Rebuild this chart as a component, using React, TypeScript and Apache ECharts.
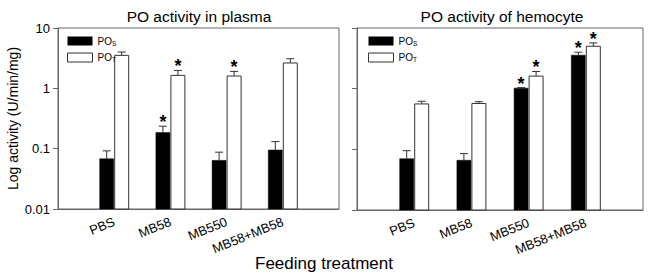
import React, { useEffect, useRef } from 'react';
import * as echarts from 'echarts';

// ---- data ----
const categories = ['', 'PBS', 'MB58', 'MB550', 'MB58+MB58', ''];
const treatments = ['PBS', 'MB58', 'MB550', 'MB58+MB58'];
const yTickLabels = ['0.01', '0.1', '1', '10'];

const plasmaPOs = [0.068, 0.185, 0.064, 0.095];
const plasmaPOsUpper = [0.092, 0.236, 0.0875, 0.131];
const plasmaPOsStar = [0, 1, 0, 0];
const plasmaPOt = [3.52, 1.64, 1.6, 2.63];
const plasmaPOtUpper = [4.0, 1.98, 1.91, 3.1];
const plasmaPOtStar = [0, 1, 1, 0];

const hemoPOs = [0.07, 0.066, 1.02, 3.56];
const hemoPOsUpper = [0.095, 0.085, 1.04, 3.99];
const hemoPOsStar = [0, 0, 1, 1];
const hemoPOt = [0.56, 0.57, 1.61, 5.0];
const hemoPOtUpper = [0.62, 0.61, 1.92, 5.67];
const hemoPOtStar = [0, 0, 1, 1];

const titles = ['PO activity in plasma', 'PO activity of hemocyte'];
const xTitle = 'Feeding treatment';
const yTitle = 'Log activity (U/min/mg)';

const FONT = '"Liberation Sans", Arial, Helvetica, sans-serif';
const AXIS = '#666';

function buildData(vals: number[], upper: number[], star: number[]) {
  return treatments.map((t, i) => [categories.indexOf(t), vals[i], upper[i], star[i]]);
}

function makeRender(side: 'S' | 'T') {
  return (params: any, api: any) => {
    const idx = api.value(0);
    const v = api.value(1);
    const up = api.value(2);
    const star = api.value(3);
    const top = api.coord([idx, v]);
    const base = api.coord([idx, 0.01]);
    const eTop = api.coord([idx, up]);
    const bw = 14;
    const x0 = side === 'S' ? top[0] - 14.5 : top[0] + 0.5;
    const bc = x0 + bw / 2;
    const children: any[] = [
      {
        type: 'rect',
        shape: { x: x0, y: top[1], width: bw, height: base[1] - top[1] },
        style: side === 'S'
          ? { fill: '#000', stroke: '#000', lineWidth: 0.5 }
          : { fill: '#fff', stroke: '#333', lineWidth: 1 },
      },
      {
        type: 'line',
        shape: { x1: bc, y1: top[1], x2: bc, y2: eTop[1] },
        style: { stroke: '#333', lineWidth: 1 },
      },
      {
        type: 'line',
        shape: { x1: bc - 4, y1: eTop[1], x2: bc + 4, y2: eTop[1] },
        style: { stroke: '#333', lineWidth: 1 },
      },
    ];
    if (star) {
      children.push({
        type: 'text',
        style: {
          text: '*',
          x: bc,
          y: eTop[1] - 4,
          align: 'center',
          verticalAlign: 'middle',
          fontSize: 18,
          fontWeight: 'bold',
          fontFamily: FONT,
          fill: '#000',
        },
      });
    }
    return { type: 'group', children };
  };
}

export default function App() {
  const ref = useRef<HTMLDivElement>(null);
  useEffect(() => {
    if (!ref.current) return;
    const chart = echarts.init(ref.current, undefined, { renderer: 'svg' });
    const legendCommon = {
      orient: 'vertical' as const,
      top: 31,
      itemWidth: 25,
      itemHeight: 9,
      itemGap: 6,
      icon: 'rect',
      selectedMode: false,
      formatter: (name: string) => (name === 'POS' ? 'PO{sub|S}' : 'PO{sub|T}'),
      textStyle: {
        fontSize: 10,
        fontFamily: FONT,
        color: '#000',
        padding: [0, 0, 0, 0],
        rich: {
          sub: { fontSize: 6.5, fontFamily: FONT, verticalAlign: 'bottom', padding: [4, 0, 0, 0] },
        },
      },
      data: [
        { name: 'POS', itemStyle: { color: '#000', borderColor: '#000', borderWidth: 0 } },
        { name: 'POT', itemStyle: { color: '#fff', borderColor: '#333', borderWidth: 1 } },
      ],
    };
    const yAxisCommon = {
      type: 'log' as const,
      logBase: 10,
      min: 0.01,
      max: 10,
      axisLine: { show: true, lineStyle: { color: AXIS, width: 1 } },
      axisTick: { show: true, length: 5, lineStyle: { color: AXIS } },
      splitLine: { show: false },
      minorTick: { show: false },
    };
    const xAxisCommon = {
      type: 'category' as const,
      data: categories,
      boundaryGap: false,
      axisLine: { show: true, lineStyle: { color: AXIS } },
      axisTick: { show: false },
      axisLabel: {
        interval: 0,
        rotate: 22,
        margin: 12,
        fontSize: 13,
        fontFamily: FONT,
        color: '#000',
      },
    };
    chart.setOption({
      animation: false,
      backgroundColor: '#fff',
      title: [
        { text: titles[0], left: 194, top: 3, textAlign: 'center', textStyle: { fontSize: 15.5, fontWeight: 'normal', fontFamily: FONT, color: '#000' } },
        { text: titles[1], left: 497, top: 3, textAlign: 'center', textStyle: { fontSize: 15.5, fontWeight: 'normal', fontFamily: FONT, color: '#000' } },
      ],
      legend: [
        { ...legendCommon, left: 62 },
        { ...legendCommon, left: 363 },
      ],
      grid: [
        { left: 58, right: 309, top: 28, bottom: 67, show: true, borderColor: AXIS, borderWidth: 1, backgroundColor: 'transparent' },
        { left: 357, right: 5, top: 28, bottom: 66, show: true, borderColor: AXIS, borderWidth: 1, backgroundColor: 'transparent' },
      ],
      xAxis: [
        { ...xAxisCommon, gridIndex: 0 },
        { ...xAxisCommon, gridIndex: 1 },
      ],
      yAxis: [
        {
          ...yAxisCommon,
          gridIndex: 0,
          name: yTitle,
          nameLocation: 'middle',
          nameGap: 38,
          nameTextStyle: { fontSize: 14, fontFamily: FONT, color: '#000' },
          axisLabel: {
            show: true,
            margin: 8,
            fontSize: 13,
            fontFamily: FONT,
            color: '#000',
            formatter: (v: number) => yTickLabels[Math.round(Math.log10(v)) + 2],
          },
        },
        { ...yAxisCommon, gridIndex: 1, axisLabel: { show: false } },
      ],
      graphic: [
        {
          type: 'text',
          left: 'center',
          top: 255,
          style: { text: xTitle, x: 343, fontSize: 17, fontFamily: FONT, fill: '#000' },
        },
      ],
      series: [
        { type: 'custom', name: 'POS', xAxisIndex: 0, yAxisIndex: 0, itemStyle: { color: '#000' }, renderItem: makeRender('S'), data: buildData(plasmaPOs, plasmaPOsUpper, plasmaPOsStar) },
        { type: 'custom', name: 'POT', xAxisIndex: 0, yAxisIndex: 0, itemStyle: { color: '#fff', borderColor: '#333' }, renderItem: makeRender('T'), data: buildData(plasmaPOt, plasmaPOtUpper, plasmaPOtStar) },
        { type: 'custom', name: 'POS', xAxisIndex: 1, yAxisIndex: 1, itemStyle: { color: '#000' }, renderItem: makeRender('S'), data: buildData(hemoPOs, hemoPOsUpper, hemoPOsStar) },
        { type: 'custom', name: 'POT', xAxisIndex: 1, yAxisIndex: 1, itemStyle: { color: '#fff', borderColor: '#333' }, renderItem: makeRender('T'), data: buildData(hemoPOt, hemoPOtUpper, hemoPOtStar) },
      ],
    });
    return () => chart.dispose();
  }, []);
  return <div ref={ref} style={{ width: 648, height: 276, position: 'absolute', left: 0, top: 0 }} />;
}
